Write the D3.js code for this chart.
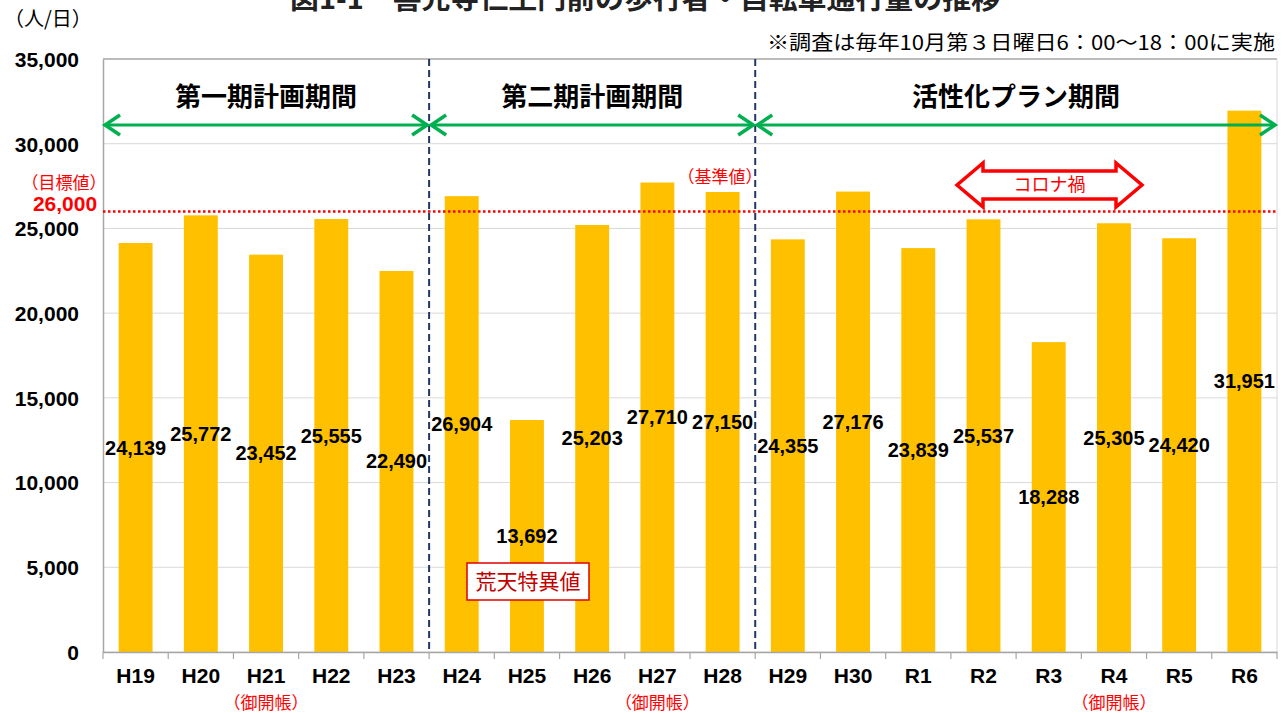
<!DOCTYPE html>
<html><head><meta charset="utf-8">
<script src="https://cdn.jsdelivr.net/npm/d3@7"></script>
<style>
body{margin:0;background:#fff;}
svg{display:block;}
text{font-family:"Noto Sans CJK JP","Noto Sans",sans-serif;}
.num{font-family:"Liberation Sans",Arial,sans-serif;font-weight:bold;}
</style></head><body>
<svg id="c" width="1286" height="713"></svg>
<script>
const categories = ["H19","H20","H21","H22","H23","H24","H25","H26","H27","H28","H29","H30","R1","R2","R3","R4","R5","R6"];
const values = [24139,25772,23452,25555,22490,26904,13692,25203,27710,27150,24355,27176,23839,25537,18288,25305,24420,31951];
const yTicks = [0,5000,10000,15000,20000,25000,30000,35000];
const periods = [
  {label:"第一期計画期間", from:"H19", to:"H23"},
  {label:"第二期計画期間", from:"H24", to:"H28"},
  {label:"活性化プラン期間", from:"H29", to:"R6"}
];
const gokaicho = ["H21","H27","R4"];
const target = 26000;

const svg = d3.select("#c");
const m = {l:103, r:1277, t:59, b:652};
const x = d3.scaleBand().domain(categories).range([m.l, m.r]).paddingInner(0.48).paddingOuter(0.24);
const xb = d3.scaleBand().domain(categories).range([m.l, m.r]);
const y = d3.scaleLinear().domain([0,35000]).range([m.b, m.t]);

// title (cut at top, as in the source image)
svg.append("text").attr("x",645).attr("y",9).attr("text-anchor","middle")
  .attr("font-size",27).attr("font-weight","bold").attr("fill","#222")
  .attr("textLength",710).attr("lengthAdjust","spacingAndGlyphs")
  .text("図1-1　善光寺仁王門前の歩行者・自転車通行量の推移");
svg.append("text").attr("x",4).attr("y",26).attr("font-size",20).text("（人/日）");
svg.append("text").attr("x",1275).attr("y",50).attr("text-anchor","end").attr("font-size",20)
  .attr("textLength",508).attr("lengthAdjust","spacingAndGlyphs")
  .text("※調査は毎年10月第３日曜日6：00〜18：00に実施");

// gridlines
svg.append("g").selectAll("line").data(yTicks).join("line")
  .attr("x1",m.l).attr("x2",m.r).attr("y1",d=>y(d)).attr("y2",d=>y(d))
  .attr("stroke",d=>d===35000?"#a6a6a6":"#d9d9d9").attr("stroke-width",d=>d===35000?1.5:1);

// y axis
const ya = svg.append("g").attr("transform",`translate(${m.l},0)`)
  .call(d3.axisLeft(y).tickValues(yTicks).tickFormat(d3.format(",")).tickSize(0).tickPadding(24));
ya.select(".domain").attr("stroke","#a6a6a6").attr("stroke-width",1.5);
ya.selectAll("text").attr("class","num").attr("font-size",21).attr("fill","#000").attr("dy","0.35em");
svg.append("line").attr("x1",m.r).attr("x2",m.r).attr("y1",m.t).attr("y2",m.b).attr("stroke","#d9d9d9");

// bars
svg.append("g").selectAll("rect").data(values).join("rect")
  .attr("x",(d,i)=>x(categories[i])).attr("width",x.bandwidth())
  .attr("y",d=>y(d)).attr("height",d=>y(0)-y(d)).attr("fill","#FFC000");

// x axis
const xa = svg.append("g").attr("transform",`translate(0,${m.b})`)
  .call(d3.axisBottom(xb).tickSize(0).tickPadding(16));
xa.select(".domain").attr("stroke","#a6a6a6").attr("stroke-width",1.5);
xa.selectAll("text").attr("class","num").attr("font-size",21).attr("fill","#000");
svg.append("g").selectAll("line").data(d3.range(categories.length+1)).join("line")
  .attr("x1",i=>m.l+i*xb.step()).attr("x2",i=>m.l+i*xb.step())
  .attr("y1",m.b).attr("y2",m.b+7).attr("stroke","#a6a6a6").attr("stroke-width",1.2);

// 御開帳
svg.append("g").selectAll("text").data(gokaicho).join("text")
  .attr("x",d=>xb(d)+xb.bandwidth()/2).attr("y",709).attr("text-anchor","middle")
  .attr("font-size",17).attr("fill","#ff0000").text("（御開帳）");

// target line
svg.append("line").attr("x1",m.l).attr("x2",m.r).attr("y1",y(target)).attr("y2",y(target))
  .attr("stroke","#ff0000").attr("stroke-width",2.5).attr("stroke-dasharray","2.5,2.5");
svg.append("text").attr("x",64).attr("y",189).attr("text-anchor","middle").attr("font-size",17).attr("fill","#ff0000").text("（目標値）");
svg.append("text").attr("x",65).attr("y",211).attr("text-anchor","middle").attr("font-size",21).attr("fill","#ff0000")
  .attr("class","num").text(d3.format(",")(target));
svg.append("text").attr("x",720).attr("y",183).attr("text-anchor","middle").attr("font-size",17).attr("fill","#ff0000").text("（基準値）");

// period dividers
const divs = [xb("H24"), xb("H29")];
svg.append("g").selectAll("line").data(divs).join("line")
  .attr("x1",d=>d).attr("x2",d=>d).attr("y1",m.t).attr("y2",m.b)
  .attr("stroke","#203864").attr("stroke-width",2).attr("stroke-dasharray","7,4");

// period arrows
const ay = 125;
periods.forEach(p=>{
  const x1 = xb(p.from), x2 = xb(p.to)+xb.step();
  const g = svg.append("g");
  g.append("line").attr("x1",x1+2).attr("x2",x2-2).attr("y1",ay).attr("y2",ay).attr("stroke","#00b050").attr("stroke-width",3);
  g.append("path").attr("d",`M${x1+17},${ay-10} L${x1+2},${ay} L${x1+17},${ay+10}`).attr("fill","none").attr("stroke","#00b050").attr("stroke-width",3.5);
  g.append("path").attr("d",`M${x2-17},${ay-10} L${x2-2},${ay} L${x2-17},${ay+10}`).attr("fill","none").attr("stroke","#00b050").attr("stroke-width",3.5);
  g.append("text").attr("x",(x1+x2)/2).attr("y",106).attr("text-anchor","middle")
    .attr("font-size",26).attr("font-weight","bold").text(p.label);
});

// コロナ禍 arrow
{
  const cx1 = 957, cx2 = 1142, cy = 185, hh = 14, ah = 22, aw = 26;
  svg.append("path").attr("d",
    `M${cx1},${cy} L${cx1+aw},${cy-ah} L${cx1+aw},${cy-hh} L${cx2-aw},${cy-hh} L${cx2-aw},${cy-ah} L${cx2},${cy} L${cx2-aw},${cy+ah} L${cx2-aw},${cy+hh} L${cx1+aw},${cy+hh} L${cx1+aw},${cy+ah} Z`)
    .attr("fill","#fff").attr("stroke","#ff0000").attr("stroke-width",3.5).attr("stroke-linejoin","miter");
  svg.append("text").attr("x",(cx1+cx2)/2).attr("y",cy).attr("dy","0.36em").attr("text-anchor","middle").attr("font-size",18).attr("fill","#ff0000").text("コロナ禍");
}

// value labels
svg.append("g").selectAll("text").data(values).join("text")
  .attr("class","num").attr("x",(d,i)=>xb(categories[i])+xb.bandwidth()/2)
  .attr("y",d=>y(d/2)).attr("dy","0.35em").attr("text-anchor","middle")
  .attr("font-size",20).attr("fill","#000").text(d=>d3.format(",")(d));

// 荒天特異値 box
svg.append("rect").attr("x",467).attr("y",563).attr("width",122).attr("height",37).attr("fill","#fff").attr("stroke","#e00000").attr("stroke-width",1.5);
svg.append("text").attr("x",528).attr("y",589).attr("text-anchor","middle").attr("font-size",21).attr("fill","#c00000").text("荒天特異値");
</script>
</body></html>
